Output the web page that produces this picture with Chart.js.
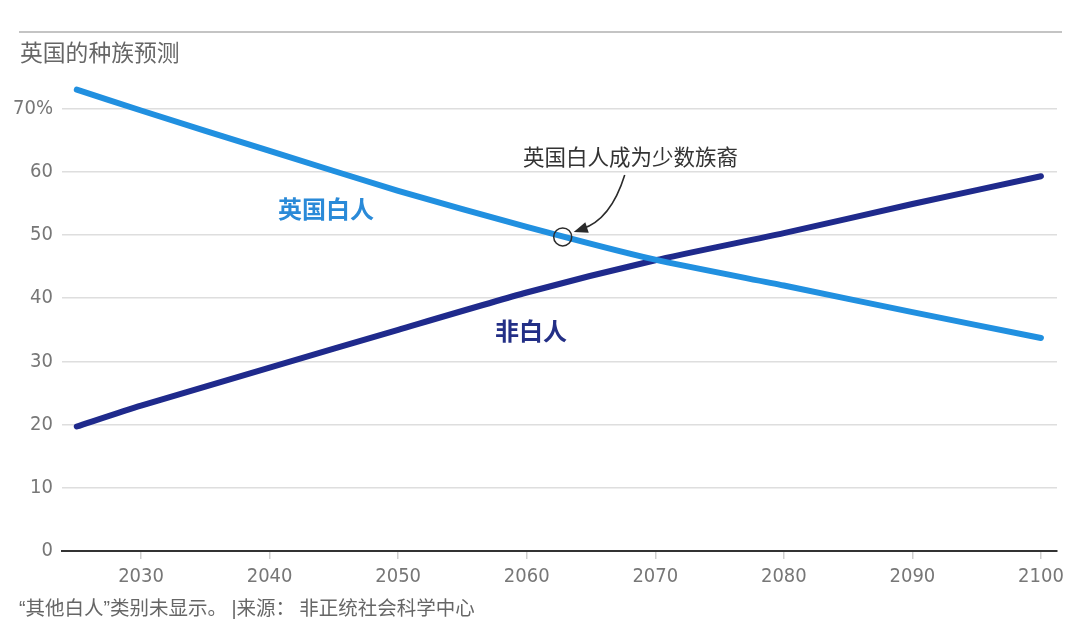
<!DOCTYPE html>
<html>
<head>
<meta charset="utf-8">
<script src="https://cdn.jsdelivr.net/npm/chart.js@4"></script>
<style>
  body { margin: 0; background: #fff; }
  #wrap { position: relative; width: 1080px; height: 629px; font-family: "Noto Sans CJK SC", "Noto Sans", sans-serif; }
  #chart { position: absolute; left: 0; top: 0; }
  .rule { position: absolute; left: 19px; top: 31px; width: 1043px; height: 2px; background: #c4c4c4; }
  .txt { position: absolute; white-space: nowrap; line-height: 1; }
  .title { left: 20px; top: 41px; font-size: 22.8px; color: #666; }
  .note { left: 19px; top: 597px; font-size: 19.5px; color: #666; }
  .note .q { font-family: "Liberation Sans", sans-serif; }
  .lbl-white { left: 278px; top: 196px; font-size: 24px; font-weight: bold; color: #2a8ad8; }
  .lbl-non { left: 495px; top: 318px; font-size: 24px; font-weight: bold; color: #232f86; }
  .lbl-ann { left: 523px; top: 145px; font-size: 21.5px; color: #333; }
</style>
</head>
<body>
<div id="wrap">
  <canvas id="chart" width="1080" height="629"></canvas>
  <div class="rule"></div>
  <div class="txt title">英国的种族预测</div>
  <div class="txt lbl-ann">英国白人成为少数族裔</div>
  <div class="txt lbl-white">英国白人</div>
  <div class="txt lbl-non">非白人</div>
  <div class="txt note"><span class="q">“</span>其他白人<span class="q">”</span>类别未显示。 <span class="q">|</span>来源： 非正统社会科学中心</div>
</div>
<script>
// --- DATA ---
const years = [2025, 2030, 2040, 2050, 2060, 2070, 2080, 2090, 2100];
const whiteBritish = [73.0, 69.7, 63.3, 57.0, 51.3, 46.1, 42.0, 37.8, 33.7];
const nonWhite = [19.7, 23.0, 29.0, 35.0, 40.9, 46.0, 50.3, 54.9, 59.3];

const xTickValues = [2030, 2040, 2050, 2060, 2070, 2080, 2090, 2100];
const yTickValues = [0, 10, 20, 30, 40, 50, 60, 70];

// point where white British drops below 50%
const minorityYear = 2062.8;
const minorityValue = 49.7;

const tickFont = { family: '"DejaVu Sans Condensed", "Liberation Sans Narrow", "Liberation Sans", sans-serif', size: 20 };

// circle + curved arrow marking the crossover
const markerPlugin = {
    id: 'marker',
    afterDatasetsDraw(chart) {
        const { ctx, scales } = chart;
        const cx = scales.x.getPixelForValue(minorityYear);
        const cy = scales.y.getPixelForValue(minorityValue);

        ctx.save();
        ctx.strokeStyle = '#2b2b2b';
        ctx.lineWidth = 1.5;
        ctx.beginPath();
        ctx.arc(cx, cy, 9, 0, Math.PI * 2);
        ctx.stroke();

        const sx = cx + 62, sy = cy - 62;
        const qx = cx + 48, qy = cy - 17;
        const tx = cx + 11, ty = cy - 5;
        ctx.lineWidth = 1.6;
        ctx.beginPath();
        ctx.moveTo(sx, sy);
        ctx.quadraticCurveTo(qx, qy, tx + 8, ty - 3);
        ctx.stroke();

        // arrow head
        const ang = Math.atan2(ty - qy, tx - qx);
        const len = 14, half = 5.5;
        ctx.fillStyle = '#2b2b2b';
        ctx.beginPath();
        ctx.moveTo(tx, ty);
        ctx.lineTo(tx - len * Math.cos(ang) + half * Math.sin(ang), ty - len * Math.sin(ang) - half * Math.cos(ang));
        ctx.lineTo(tx - len * Math.cos(ang) - half * Math.sin(ang), ty - len * Math.sin(ang) + half * Math.cos(ang));
        ctx.closePath();
        ctx.fill();
        ctx.restore();
    }
};

const lineStyle = {
    borderWidth: 6,
    borderCapStyle: 'round',
    borderJoinStyle: 'round',
    pointRadius: 0,
    tension: 0.2,
    clip: false
};

new Chart(document.getElementById('chart'), {
    type: 'line',
    data: {
        datasets: [
            {
                label: '英国白人',
                data: years.map((y, i) => ({ x: y, y: whiteBritish[i] })),
                borderColor: '#2190e0',
                ...lineStyle
            },
            {
                label: '非白人',
                data: years.map((y, i) => ({ x: y, y: nonWhite[i] })),
                borderColor: '#1f2a8c',
                ...lineStyle
            }
        ]
    },
    options: {
        responsive: false,
        animation: false,
        layout: { padding: { top: 77, right: 23, bottom: 0, left: 0 } },
        plugins: {
            legend: { display: false },
            tooltip: { enabled: false }
        },
        scales: {
            x: {
                type: 'linear',
                min: 2023.85,
                max: 2101.25,
                afterBuildTicks: axis => { axis.ticks = xTickValues.map(v => ({ value: v })); },
                afterFit: axis => { axis.height = 78; },
                grid: { drawOnChartArea: false, drawTicks: true, tickLength: 8, color: '#cfcfcf', lineWidth: 1.5 },
                border: { display: true, color: '#333', width: 2 },
                ticks: { color: '#777', font: tickFont, padding: 6, maxRotation: 0, callback: v => String(v) }
            },
            y: {
                min: 0,
                max: 75,
                afterBuildTicks: axis => { axis.ticks = yTickValues.map(v => ({ value: v })); },
                afterFit: axis => { axis.width = 62; },
                grid: { color: '#dedede', lineWidth: 1.5, drawTicks: false },
                border: { display: false },
                ticks: { color: '#777', font: tickFont, padding: 9, callback: v => v === 70 ? '70%' : String(v) }
            }
        }
    },
    plugins: [markerPlugin]
});
</script>
</body>
</html>
